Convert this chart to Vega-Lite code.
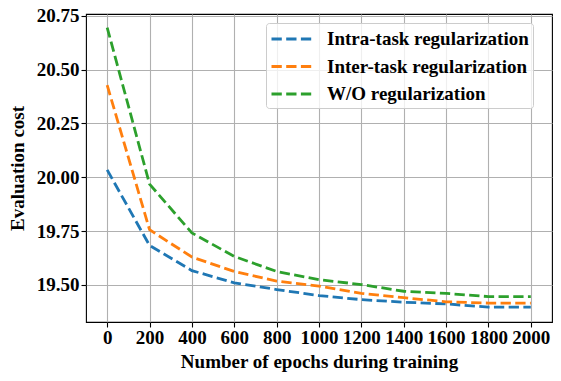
{
  "$schema": "https://vega.github.io/schema/vega-lite/v6.json",
  "width": 466,
  "height": 308,
  "autosize": "none",
  "padding": {"left": 86, "top": 14, "right": 9, "bottom": 59},
  "background": "white",
  "config": {
    "view": {"stroke": "black", "strokeWidth": 1.1},
    "font": "Liberation Serif",
    "axis": {
      "labelFont": "Liberation Serif",
      "labelFontWeight": "bold",
      "labelFontSize": 19,
      "labelColor": "black",
      "titleFont": "Liberation Serif",
      "titleFontWeight": "bold",
      "titleFontSize": 19,
      "titleColor": "black",
      "gridColor": "#b0b0b0",
      "gridWidth": 1.1,
      "gridOpacity": 1,
      "tickColor": "black",
      "tickSize": 5,
      "tickWidth": 1.1,
      "domain": false,
      "labelPadding": 3
    },
    "legend": {
      "labelFont": "Liberation Serif",
      "labelFontWeight": "bold",
      "labelFontSize": 19,
      "labelColor": "black",
      "labelLimit": 0
    }
  },
  "data": {
    "values": [
      {"epoch": 0, "cost": 20.034, "method": "Intra-task regularization"},
      {"epoch": 200, "cost": 19.683, "method": "Intra-task regularization"},
      {"epoch": 400, "cost": 19.566, "method": "Intra-task regularization"},
      {"epoch": 600, "cost": 19.509, "method": "Intra-task regularization"},
      {"epoch": 800, "cost": 19.478, "method": "Intra-task regularization"},
      {"epoch": 1000, "cost": 19.450, "method": "Intra-task regularization"},
      {"epoch": 1200, "cost": 19.431, "method": "Intra-task regularization"},
      {"epoch": 1400, "cost": 19.419, "method": "Intra-task regularization"},
      {"epoch": 1600, "cost": 19.411, "method": "Intra-task regularization"},
      {"epoch": 1800, "cost": 19.396, "method": "Intra-task regularization"},
      {"epoch": 2000, "cost": 19.396, "method": "Intra-task regularization"},
      {"epoch": 0, "cost": 20.428, "method": "Inter-task regularization"},
      {"epoch": 200, "cost": 19.756, "method": "Inter-task regularization"},
      {"epoch": 400, "cost": 19.629, "method": "Inter-task regularization"},
      {"epoch": 600, "cost": 19.562, "method": "Inter-task regularization"},
      {"epoch": 800, "cost": 19.517, "method": "Inter-task regularization"},
      {"epoch": 1000, "cost": 19.494, "method": "Inter-task regularization"},
      {"epoch": 1200, "cost": 19.460, "method": "Inter-task regularization"},
      {"epoch": 1400, "cost": 19.440, "method": "Inter-task regularization"},
      {"epoch": 1600, "cost": 19.421, "method": "Inter-task regularization"},
      {"epoch": 1800, "cost": 19.415, "method": "Inter-task regularization"},
      {"epoch": 2000, "cost": 19.415, "method": "Inter-task regularization"},
      {"epoch": 0, "cost": 20.696, "method": "W/O regularization"},
      {"epoch": 200, "cost": 19.968, "method": "W/O regularization"},
      {"epoch": 400, "cost": 19.741, "method": "W/O regularization"},
      {"epoch": 600, "cost": 19.632, "method": "W/O regularization"},
      {"epoch": 800, "cost": 19.562, "method": "W/O regularization"},
      {"epoch": 1000, "cost": 19.524, "method": "W/O regularization"},
      {"epoch": 1200, "cost": 19.501, "method": "W/O regularization"},
      {"epoch": 1400, "cost": 19.470, "method": "W/O regularization"},
      {"epoch": 1600, "cost": 19.460, "method": "W/O regularization"},
      {"epoch": 1800, "cost": 19.445, "method": "W/O regularization"},
      {"epoch": 2000, "cost": 19.445, "method": "W/O regularization"}
    ]
  },
  "mark": {"type": "line", "strokeWidth": 2.8, "strokeDash": [10.3, 4.4], "clip": true},
  "encoding": {
    "x": {
      "field": "epoch",
      "type": "quantitative",
      "scale": {"domain": [-100, 2100], "nice": false, "zero": false},
      "axis": {"values": [0, 200, 400, 600, 800, 1000, 1200, 1400, 1600, 1800, 2000], "format": "d", "title": "Number of epochs during training", "titlePadding": 5, "labelPadding": 1, "labelFlush": false}
    },
    "y": {
      "field": "cost",
      "type": "quantitative",
      "scale": {"domain": [19.327, 20.759], "nice": false, "zero": false},
      "axis": {"values": [19.5, 19.75, 20.0, 20.25, 20.5, 20.75], "format": ".2f", "title": "Evaluation cost", "titlePadding": 9, "labelPadding": 2, "labelFlush": false}
    },
    "color": {
      "field": "method",
      "type": "nominal",
      "scale": {
        "domain": ["Intra-task regularization", "Inter-task regularization", "W/O regularization"],
        "range": ["#1f77b4", "#ff7f0e", "#2ca02c"]
      },
      "legend": {
        "title": null,
        "orient": "none",
        "legendX": 180,
        "legendY": 9,
        "symbolType": "M-1,0H3",
        "symbolSize": 441,
        "symbolStrokeWidth": 2.8,
        "symbolDash": [10.3, 4.4],
        "fillColor": "rgba(255,255,255,0.8)",
        "strokeColor": "#cccccc",
        "cornerRadius": 3,
        "padding": 4,
        "labelOffset": 33,
        "rowPadding": 5.5
      }
    }
  }
}
